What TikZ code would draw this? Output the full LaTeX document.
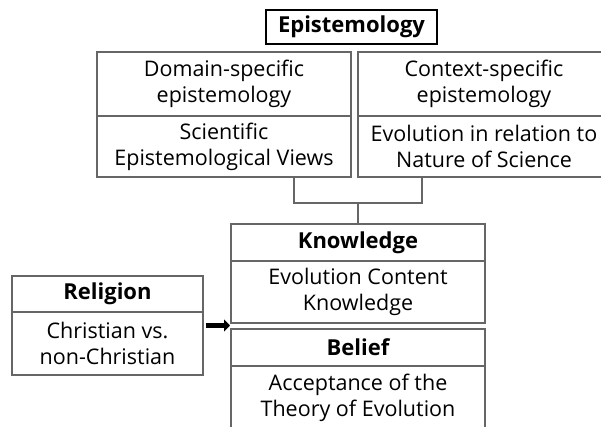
\documentclass[tikz,border=0pt]{standalone}
\usepackage{fontspec}
\setmainfont{Open Sans}
\usetikzlibrary{arrows.meta,calc}
\begin{document}
\begin{tikzpicture}[x=1pt,y=-1pt,
  cell/.style={draw=black!60,line width=1.3pt,inner sep=0pt,align=center,font=\fontsize{21.5}{26}\selectfont,text=black},
  head/.style={cell,font=\fontsize{22}{26}\selectfont\bfseries},
  conn/.style={draw=black!60,line width=1.3pt}]
\useasboundingbox (0,0) rectangle (601,427);
\node[draw=black,line width=2.2pt,inner sep=0pt,minimum width=171pt,minimum height=34pt,font=\fontsize{22}{24}\selectfont\bfseries] (epi) at (351.5,27) {Epistemology};
\node[cell,minimum width=254pt,minimum height=64pt] (dom) at (224,84) {Domain-specific\\epistemology};
\node[cell,minimum width=254pt,minimum height=61pt] (sev) at (224,146.5) {Scientific\\Epistemological Views};
\node[cell,minimum width=252pt,minimum height=64pt] (ctx) at (484,84) {Context-specific\\epistemology};
\node[cell,minimum width=252pt,minimum height=61pt] (evn) at (484,146.5) {Evolution in relation to\\Nature of Science};
\node[head,minimum width=254pt,minimum height=37pt] (kh) at (358,242.5) {Knowledge};
\node[cell,minimum width=254pt,minimum height=62pt] (kc) at (358,292) {Evolution Content\\Knowledge};
\node[head,minimum width=254pt,minimum height=37pt] (bh) at (358,347.5) {Belief};
\node[cell,minimum width=254pt,minimum height=64pt] (bc) at (358,398) {Acceptance of the\\Theory of Evolution};
\node[head,minimum width=191pt,minimum height=36pt] (rh) at (107.5,294) {Religion};
\node[cell,minimum width=191pt,minimum height=63pt] (rc) at (107.5,343.5) {Christian vs.\\non-Christian};
\coordinate (join) at (358,203);
\coordinate (gap) at (230,325.5);
\draw[conn] ([xshift=70pt]sev.south) |- (join) -| ([xshift=-62pt]evn.south);
\draw[conn] (join) -- (kh.north);
\draw[line width=5pt,-{Triangle[length=6pt,width=12pt]}] (rc.east |- gap) ++(2,0) -- (gap);
\end{tikzpicture}
\end{document}
